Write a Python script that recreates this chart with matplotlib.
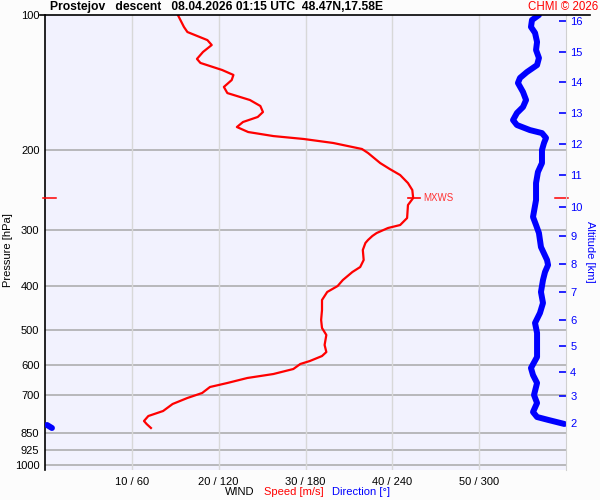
import numpy as np
import matplotlib
matplotlib.use("Agg")
import matplotlib.pyplot as plt
from matplotlib.lines import Line2D

plt.rcParams['font.family'] = ['Liberation Sans', 'DejaVu Sans']

# ---- data ----
speed_p = [100.0, 106.3, 109.1, 113.7, 116.6, 120.8, 125.2, 127.8, 132.5, 135.9, 139.5, 144.5,
           149.1, 154.5, 159.3, 164.3, 168.5, 172.9, 177.4, 182.0, 185.8, 188.6, 192.5, 198.5,
           202.6, 213.3, 219.9, 226.8, 236.3, 244.9, 255.1, 264.4, 282.6, 292.9, 297.4, 305.1,
           309.8, 316.2, 321.1, 332.8, 350.3, 363.1, 372.5, 388.1, 400.2, 412.6, 429.9, 452.4,
           476.1, 496.0, 514.1, 541.1, 561.0, 572.6, 587.4, 596.4, 611.9, 627.8, 640.7, 657.3,
           670.9, 691.8, 709.7, 731.8, 758.6, 778.3, 798.4, 810.7, 827.5]
speed_ms = [15.3, 16.0, 16.4, 18.7, 19.2, 18.2, 17.5, 17.9, 20.4, 21.7, 21.5, 20.6,
            21.0, 23.6, 24.8, 25.1, 24.5, 22.8, 22.1, 23.4, 26.3, 29.8, 33.2, 36.5,
            37.2, 38.6, 39.7, 40.9, 41.8, 42.3, 42.4, 41.8, 41.7, 40.9, 39.5, 38.2,
            37.7, 37.2, 36.9, 36.6, 36.7, 36.3, 35.4, 34.3, 33.7, 32.5, 31.9, 31.9,
            31.8, 31.9, 32.4, 32.2, 32.4, 31.9, 30.5, 29.4, 28.6, 26.3, 23.3, 21.0,
            19.0, 18.1, 16.4, 14.7, 13.6, 11.9, 11.4, 11.7, 12.2]

dir_p = [100.0, 102.6, 106.3, 109.6, 114.8, 119.6, 124.6, 129.2, 133.9, 138.0, 141.6, 148.3,
         154.5, 160.1, 165.1, 171.2, 175.6, 180.2, 183.0, 187.6, 192.5, 199.5, 213.3, 223.3,
         236.3, 257.7, 281.1, 292.9, 305.1, 327.8, 350.3, 359.4, 372.5, 388.1, 412.6, 436.5,
         459.5, 483.5, 508.9, 547.0, 575.4, 608.8, 631.0, 657.3, 699.0, 728.1, 762.5, 782.3,
         794.3, 810.7, 814.9, 827.5]
dir_deg = [341.3, 336.5, 335.8, 338.6, 340.0, 339.3, 341.3, 340.0, 333.0, 328.2, 326.8, 330.3,
           332.4, 330.3, 326.1, 323.4, 326.1, 335.1, 343.4, 346.2, 344.8, 343.4, 343.4, 340.6,
           339.3, 339.3, 337.2, 339.3, 341.3, 342.7, 346.9, 347.6, 345.5, 344.1, 342.7, 344.1,
           342.0, 338.6, 340.0, 340.0, 340.0, 335.8, 337.2, 340.0, 337.9, 340.0, 337.2, 340.0,
           347.9, 358.9, 1.4, 4.8]

p_ticks = [100, 200, 300, 400, 500, 600, 700, 850, 925, 1000]
speed_ticks = [10, 20, 30, 40, 50]
dir_ticks = [60, 120, 180, 240, 300]
alt_km = [2, 3, 4, 5, 6, 7, 8, 9, 10, 11, 12, 13, 14, 15, 16]
alt_p = [806.6, 702.5, 621.6, 543.9, 476.1, 412.6, 357.6, 309.8, 267.1, 226.8,
         193.4, 165.1, 140.9, 120.8, 103.1]

# ---- figure ----
W, H = 600, 500
fig = plt.figure(figsize=(6, 5), dpi=100, facecolor='#fcfcfc')
L, R, T, B = 45, 566, 15, 470
ax = fig.add_axes([L / W, 1 - B / H, (R - L) / W, (B - T) / H])
ax.set_facecolor('#f2f2fe')
ax.set_yscale('log')
ax.set_ylim(10 ** (2 + (B - T) / 450), 100)
ax.set_xlim(0, 60)

FS = 8

# grid
for p in p_ticks[1:]:
    ax.axhline(p, color='#a8a8a8', lw=1.1, zorder=1)
for s in speed_ticks:
    ax.axvline(s, color='#d8d8d8', lw=1.0, zorder=1)

ax.set_yticks(p_ticks)
ax.set_yticklabels([str(p) for p in p_ticks])
ax.yaxis.set_minor_locator(matplotlib.ticker.NullLocator())
ax.tick_params(axis='y', length=0, pad=4, labelsize=FS)
ax.set_xticks(speed_ticks)
ax.set_xticklabels([f"{s} / {d}" for s, d in zip(speed_ticks, dir_ticks)])
ax.tick_params(axis='x', length=0, pad=5, labelsize=FS)
for sp in ['top', 'bottom', 'right']:
    ax.spines[sp].set_visible(False)
ax.spines['left'].set_color('black')
ax.spines['left'].set_linewidth(1.2)

# speed line
ax.plot(speed_ms, speed_p, color='#ff0000', lw=1.6, zorder=4)

# direction on twin axis
axd = ax.twiny()
axd.set_xlim(0, 360)
axd.set_xticks([])
for sp in axd.spines.values():
    sp.set_visible(False)
d = np.array(dir_deg, dtype=float)
pp = np.array(dir_p, dtype=float)
jumps = np.where(np.abs(np.diff(d)) > 180)[0]
segs_d = np.split(d, jumps + 1)
segs_p = np.split(pp, jumps + 1)
for sd, spp in zip(segs_d, segs_p):
    axd.plot(sd, spp, color='#0000ff', lw=4.3, solid_capstyle='round',
             solid_joinstyle='round', zorder=5)

# altitude axis
axa = ax.twinx()
axa.set_yscale('log')
axa.set_ylim(ax.get_ylim())
axa.set_yticks(alt_p)
axa.set_yticklabels([str(k) for k in alt_km])
axa.yaxis.set_minor_locator(matplotlib.ticker.NullLocator())
axa.tick_params(axis='y', direction='in', length=5, width=1.2, color='#0000ff',
                labelcolor='#0000ff', pad=3, labelsize=FS)
for sp in ['top', 'bottom', 'left']:
    axa.spines[sp].set_visible(False)
axa.spines['right'].set_color('#d0d0d0')

# MXWS marker
imax = int(np.argmax(speed_ms))
pm, sm = speed_p[imax], speed_ms[imax]
ax.plot([sm - 0.6, sm + 0.8], [pm, pm], color='#ff0000', lw=1.2, zorder=6)
ax.text(sm + 1.15, pm, 'MXWS', color='#ff3333', fontsize=7, va='center', ha='left')
ytr = ax.get_yaxis_transform()
ax.plot([-2 / (R - L), 11 / (R - L)], [pm, pm], color='#ff0000', lw=1.1,
        transform=ytr, clip_on=False, zorder=6)
ax.plot([1 - 11 / (R - L), 1 + 2 / (R - L)], [pm, pm], color='#ff0000', lw=1.1,
        transform=ytr, clip_on=False, zorder=6)

# top black line
fig.add_artist(Line2D([40 / W, 590 / W], [1 - T / H, 1 - T / H], color='black', lw=1.2))

# texts
fig.text(50 / W, 1 - 7 / H, 'Prostejov   descent   08.04.2026 01:15 UTC  48.47N,17.58E',
         fontsize=8.7, fontweight='bold', va='center', ha='left')
fig.text(598 / W, 1 - 7 / H, 'CHMI © 2026', color='#ff0000', fontsize=8.3,
         va='center', ha='right')
fig.text(8 / W, 1 - 250 / H, 'Pressure [hPa]', rotation=90, fontsize=FS,
         va='center', ha='center')
fig.text(590 / W, 1 - 252 / H, 'Altitude [km]', rotation=270, fontsize=FS, color='#0000ff',
         va='center', ha='center')
fig.text(225 / W, 1 - 492 / H, 'WIND', fontsize=FS, va='center', ha='left')
fig.text(264 / W, 1 - 492 / H, 'Speed [m/s]', color='#ff0000', fontsize=FS, va='center', ha='left')
fig.text(332 / W, 1 - 492 / H, 'Direction [°]', color='#0000ff', fontsize=FS, va='center', ha='left')

fig.savefig('out.png', dpi=100, facecolor=fig.get_facecolor())
